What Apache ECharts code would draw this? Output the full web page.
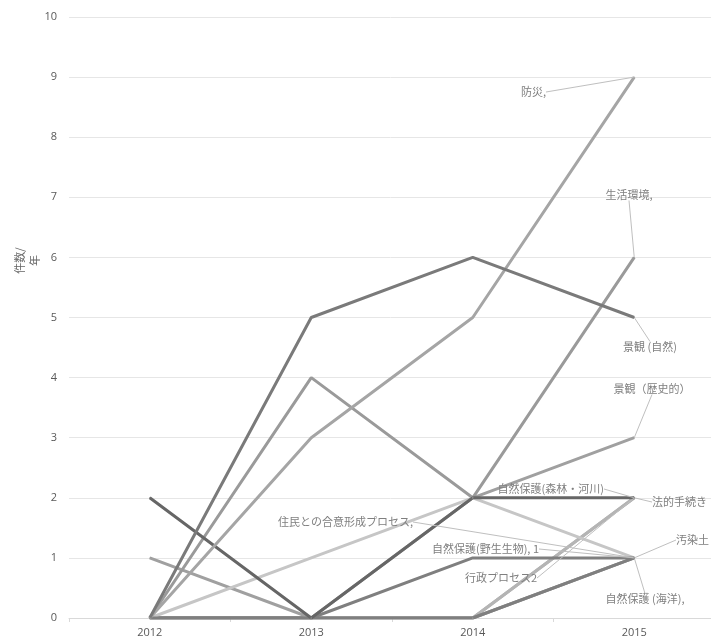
<!DOCTYPE html>
<html>
<head>
<meta charset="utf-8">
<script src="https://cdn.jsdelivr.net/npm/echarts@6/dist/echarts.min.js"></script>
<style>
	html, body { margin: 0; padding: 0; background: #fff; }
	#main { width: 711px; height: 638px; }
</style>
</head>
<body>
<div id="main"></div>
<script>
	var years = ['2012', '2013', '2014', '2015'];

	// 件数/年 per category
	var bousai = [0, 3, 5, 9];
	var seikatsu = [0, 4, 2, 6];
	var keikanShizen = [0, 5, 6, 5];
	var keikanRekishi = [1, 0, 2, 3];
	var shinrin = [2, 0, 2, 2];
	var houteki = [0, 0, 0, 2];
	var gyousei = [0, 0, 0, 2];
	var juumin = [0, 1, 2, 1];
	var yasei = [0, 0, 1, 1];
	var osen = [0, 0, 0, 1];
	var kaiyou = [0, 0, 0, 1];

	var chart = echarts.init(document.getElementById('main'));

	var jpFont = '"Noto Sans CJK JP", "Noto Sans", sans-serif';

	// name, data, colour, label text, label position (x, y, align)
	var list = [
		['行政プロセス', gyousei, '#b4b4b4', '行政プロセス2', 537, 578, 'right'],
		['法的手続き', houteki, '#b4b4b4', '法的手続き', 652, 502, 'left'],
		['汚染土', osen, '#8c8c8c', '汚染土', 676, 540, 'left'],
		['自然保護(海洋)', kaiyou, '#7f7f7f', '自然保護 (海洋),', 645, 599, 'center'],
		['景観(歴史的)', keikanRekishi, '#a0a0a0', '景観（歴史的）', 652, 389, 'center'],
		['生活環境', seikatsu, '#9a9a9a', '生活環境,', 629, 195, 'center'],
		['住民との合意形成プロセス', juumin, '#c6c6c6', '住民との合意形成プロセス,', 413, 522, 'right'],
		['自然保護(野生生物)', yasei, '#7f7f7f', '自然保護(野生生物), 1', 539, 549, 'right'],
		['自然保護(森林・河川)', shinrin, '#666666', '自然保護(森林・河川)', 604, 489, 'right'],
		['防災', bousai, '#a5a5a5', '防災,', 546, 92, 'right'],
		['景観(自然)', keikanShizen, '#7a7a7a', '景観 (自然)', 650, 347, 'center']
	];

	var series = [];
	for (var i = 0; i < list.length; i++) {
		(function (s) {
			var data = s[1].map(function (v, k) {
				if (k === s[1].length - 1) {
					return {
						value: v,
						label: {
							show: true,
							formatter: s[3]
						}
					};
				}
				return v;
			});
			series.push({
				name: s[0],
				type: 'line',
				data: data,
				symbol: 'circle',
				symbolSize: 1,
				showSymbol: true,
				lineStyle: { color: s[2], width: 3 },
				itemStyle: { color: s[2] },
				label: {
					color: '#7f7f7f',
					fontSize: 11,
					fontFamily: jpFont
				},
				labelLine: {
					show: true,
					showAbove: false,
					lineStyle: { color: '#bfbfbf', width: 1 }
				},
				labelLayout: function () {
					return {
						x: s[4],
						y: s[5],
						align: s[6],
						verticalAlign: 'middle',
						moveOverlap: false
					};
				},
				emphasis: { disabled: true },
				animation: false
			});
		})(list[i]);
	}

	var option = {
		backgroundColor: '#ffffff',
		animation: false,
		grid: {
			left: 69,
			right: -4,
			top: 17,
			bottom: 20,
			containLabel: false,
			outerBoundsMode: 'none'
		},
		xAxis: {
			type: 'category',
			data: years,
			boundaryGap: true,
			axisLine: { show: true, lineStyle: { color: '#d9d9d9' } },
			axisTick: { show: true, length: 4, lineStyle: { color: '#d9d9d9' } },
			axisLabel: {
				color: '#595959',
				fontSize: 11,
				margin: 9,
				fontFamily: '"Open Sans", sans-serif'
			}
		},
		yAxis: {
			type: 'value',
			min: 0,
			max: 10,
			interval: 1,
			name: '件数/\n年',
			nameLocation: 'middle',
			nameRotate: 90,
			nameGap: 27,
			nameMoveOverlap: false,
			nameTextStyle: {
				color: '#666666',
				fontSize: 11,
				fontFamily: jpFont,
				lineHeight: 15,
				padding: [0, 0, 0, 114]
			},
			axisLine: { show: false },
			axisTick: { show: false },
			axisLabel: {
				color: '#595959',
				fontSize: 11,
				margin: 12,
				fontFamily: '"Open Sans", sans-serif'
			},
			splitLine: { lineStyle: { color: '#e6e6e6' } }
		},
		series: series
	};

	chart.setOption(option);
</script>
</body>
</html>
